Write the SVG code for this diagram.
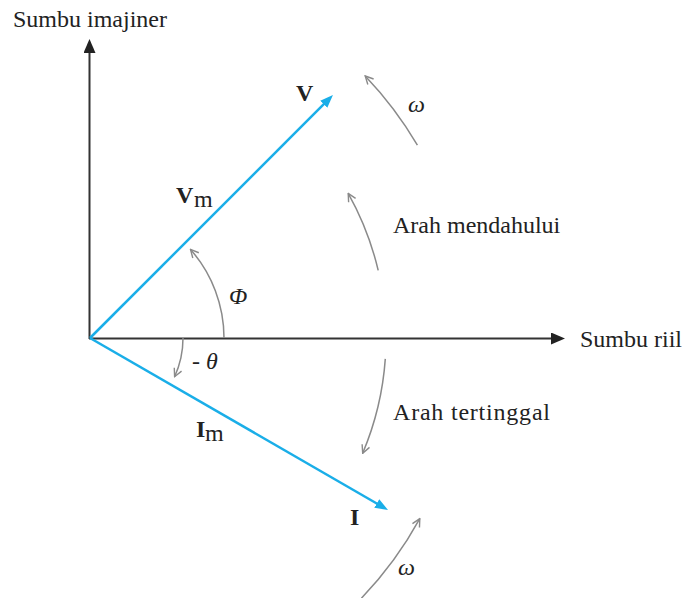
<svg xmlns="http://www.w3.org/2000/svg" width="686" height="598" viewBox="0 0 686 598">
<style>
text{font-family:'Liberation Serif','DejaVu Serif','Times New Roman',serif;fill:#222;font-size:24px}
.b{font-weight:bold}
.i{font-style:italic}
.axis{stroke:#333;stroke-width:2;fill:none}
.vec{stroke:#1aaee8;stroke-width:2.5;fill:none}
.arc{stroke:#8a8a8a;stroke-width:1.5;fill:none}
</style>
<defs>
<marker id="ax" markerUnits="userSpaceOnUse" viewBox="0 0 14 12" refX="5" refY="6" markerWidth="14" markerHeight="12" orient="auto">
<path d="M0,0 L14,6 L0,12 z" fill="#222"/>
</marker>
<marker id="bl" markerUnits="userSpaceOnUse" viewBox="0 0 13 10" refX="5" refY="5" markerWidth="13" markerHeight="10" orient="auto">
<path d="M0,0 L13,5 L0,10 z" fill="#1aaee8"/>
</marker>
<marker id="op" markerUnits="userSpaceOnUse" viewBox="0 0 10 10" refX="9" refY="5" markerWidth="10" markerHeight="10" orient="auto">
<path d="M1,1 L9,5 L1,9" fill="none" stroke="#8a8a8a" stroke-width="1.4"/>
</marker>
</defs>
<g id="connectors">
<line class="axis" x1="89.5" y1="339" x2="89.5" y2="48" marker-end="url(#ax)"/>
<line class="axis" x1="89" y1="338.5" x2="556" y2="338.5" marker-end="url(#ax)"/>
<line class="vec" x1="90" y1="338" x2="327.3" y2="100.7" marker-end="url(#bl)"/>
<line class="vec" x1="90" y1="338" x2="381.1" y2="506" marker-end="url(#bl)"/>
<path class="arc" d="M417.4,145.1 A380,380 0 0 0 365.2,76" marker-end="url(#op)"/>
<path class="arc" d="M378.2,270.4 A296,296 0 0 0 348.2,193.3" marker-end="url(#op)"/>
<path class="arc" d="M224,338 A134,134 0 0 0 190.5,249.4" marker-end="url(#op)"/>
<path class="arc" d="M183,338 A93,93 0 0 1 174.6,376.7" marker-end="url(#op)"/>
<path class="arc" d="M385.3,358.9 A296,296 0 0 1 362.7,453.2" marker-end="url(#op)"/>
<path class="arc" d="M361.4,598.2 A376,376 0 0 0 419.8,518.6" marker-end="url(#op)"/>
</g>
<g id="label-imag"><text x="13" y="27">Sumbu imajiner</text></g>
<g id="label-real"><text x="580" y="347">Sumbu riil</text></g>
<g id="label-V"><text class="b" x="296" y="101">V</text></g>
<g id="label-Vm"><text class="b" x="176" y="203" font-size="21">V</text><text x="194" y="207" font-size="18">m</text></g>
<g id="label-omega-top"><text class="i" x="408" y="112">ω</text></g>
<g id="label-lead"><text x="393" y="233">Arah mendahului</text></g>
<g id="label-phi"><text class="i" x="229" y="304">Φ</text></g>
<g id="label-theta"><text x="192" y="369">- <tspan class="i">θ</tspan></text></g>
<g id="label-lag"><text x="393" y="420" textLength="157">Arah tertinggal</text></g>
<g id="label-Im"><text class="b" x="196" y="437">I</text><text x="205" y="441" font-size="18">m</text></g>
<g id="label-I"><text class="b" x="350" y="525">I</text></g>
<g id="label-omega-bot"><text class="i" x="398" y="575">ω</text></g>
</svg>
